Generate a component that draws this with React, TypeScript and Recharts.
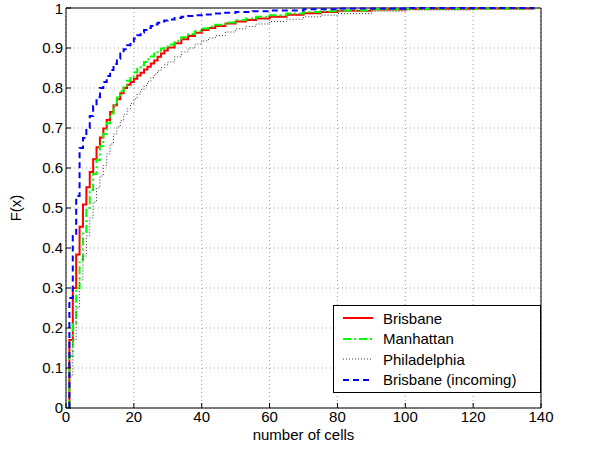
import {
  LineChart,
  Line,
  XAxis,
  YAxis,
  CartesianGrid,
  Legend,
  ReferenceLine,
} from "recharts";

const brisbaneCells = [
  1, 2, 3, 4, 5, 6, 7, 8, 9, 10, 11, 12, 13, 14, 15, 16, 17, 18, 19, 20, 21, 22, 23, 24, 25, 26, 27, 28, 29, 30,
  32, 34, 36, 38, 40, 42, 44, 47, 50, 53, 56, 60, 65, 70, 75, 80, 90, 100, 120, 138,
];
const brisbaneF = [
  0.17, 0.3, 0.384, 0.453, 0.509, 0.552, 0.59, 0.622, 0.652, 0.676, 0.699, 0.72, 0.74, 0.757, 0.772, 0.787, 0.8,
  0.808, 0.815, 0.823, 0.831, 0.838, 0.846, 0.853, 0.861, 0.869, 0.878, 0.886, 0.894, 0.901, 0.912, 0.922, 0.93,
  0.938, 0.945, 0.95, 0.955, 0.961, 0.966, 0.97, 0.974, 0.978, 0.983, 0.987, 0.99, 0.993, 0.996, 0.998, 0.999, 1,
];

const manhattanCells = [
  1, 2, 3, 4, 5, 6, 7, 8, 9, 10, 11, 12, 13, 14, 15, 16, 17, 18, 19, 20, 21, 22, 23, 24, 25, 26, 27, 28, 29, 30,
  32, 34, 36, 38, 40, 42, 44, 47, 50, 53, 56, 60, 65, 70, 75, 80, 90, 100, 120, 138,
];
const manhattanF = [
  0.13, 0.21, 0.3, 0.37, 0.44, 0.5, 0.545, 0.585, 0.62, 0.655, 0.685, 0.712, 0.736, 0.757, 0.776, 0.792, 0.806,
  0.818, 0.829, 0.839, 0.848, 0.857, 0.865, 0.872, 0.879, 0.886, 0.893, 0.899, 0.904, 0.909, 0.918, 0.927, 0.935,
  0.942, 0.949, 0.954, 0.958, 0.964, 0.97, 0.974, 0.978, 0.982, 0.986, 0.99, 0.992, 0.994, 0.997, 0.998, 0.999, 1,
];

const philadelphiaCells = [
  1, 2, 3, 4, 5, 6, 7, 8, 9, 10, 11, 12, 13, 14, 15, 16, 17, 18, 19, 20, 21, 22, 23, 24, 25, 26, 27, 28, 29, 30,
  32, 34, 36, 38, 40, 42, 44, 47, 50, 53, 56, 60, 65, 70, 75, 80, 90, 100, 120, 138,
];
const philadelphiaF = [
  0.08, 0.17, 0.25, 0.32, 0.38, 0.43, 0.475, 0.515, 0.55, 0.58, 0.607, 0.635, 0.66, 0.685, 0.703, 0.719, 0.734,
  0.748, 0.761, 0.773, 0.785, 0.796, 0.806, 0.816, 0.826, 0.835, 0.843, 0.851, 0.858, 0.865, 0.878, 0.89, 0.9,
  0.91, 0.918, 0.925, 0.931, 0.94, 0.948, 0.954, 0.96, 0.966, 0.972, 0.978, 0.982, 0.986, 0.992, 0.995, 0.998, 1,
];

const incomingCells = [
  1, 2, 3, 4, 5, 6, 7, 8, 9, 10, 11, 12, 13, 14, 15, 16, 17, 18, 19, 20, 21, 22, 23, 24, 25, 26, 27, 28, 29, 30,
  32, 34, 36, 38, 40, 43, 46, 50, 55, 60, 70, 80, 100, 138,
];
const incomingF = [
  0.275, 0.43, 0.53, 0.65, 0.675, 0.7, 0.73, 0.755, 0.777, 0.8, 0.815, 0.83, 0.845, 0.86, 0.873, 0.886, 0.897,
  0.907, 0.916, 0.924, 0.932, 0.939, 0.945, 0.95, 0.955, 0.959, 0.963, 0.966, 0.969, 0.971, 0.975, 0.978, 0.98,
  0.982, 0.984, 0.986, 0.988, 0.99, 0.992, 0.994, 0.997, 0.999, 1, 1,
];

const xTicks = [0, 20, 40, 60, 80, 100, 120, 140];
const yTicks = [0, 0.1, 0.2, 0.3, 0.4, 0.5, 0.6, 0.7, 0.8, 0.9, 1];

const font = '"Liberation Sans", Arial, Helvetica, sans-serif';

// ecdf starts with a vertical jump from 0 at the smallest value
const toSteps = (cells: number[], cdf: number[]) => [
  { x: cells[0], F: 0 },
  ...cells.map((c, i) => ({ x: c, F: cdf[i] })),
];

const series = [
  { name: "Brisbane", data: toSteps(brisbaneCells, brisbaneF), color: "#ff0000", width: 2, dash: undefined },
  { name: "Manhattan", data: toSteps(manhattanCells, manhattanF), color: "#00ff00", width: 2, dash: "8 3 2 3" },
  { name: "Philadelphia", data: toSteps(philadelphiaCells, philadelphiaF), color: "#333333", width: 1, dash: "1 2" },
  { name: "Brisbane (incoming)", data: toSteps(incomingCells, incomingF), color: "#0000ff", width: 2, dash: "6 4" },
];

function LegendBox() {
  return (
    <div
      style={{
        border: "1px solid #000",
        background: "#fff",
        width: 206,
        padding: "2px 0 2px 0",
        fontFamily: font,
        fontSize: 15,
        color: "#000",
      }}
    >
      {series.map((s) => (
        <div key={s.name} style={{ display: "flex", alignItems: "center", height: 20.5 }}>
          <svg width={49} height={10}>
            <line
              x1={9}
              x2={39}
              y1={5}
              y2={5}
              stroke={s.color}
              strokeWidth={s.width}
              strokeDasharray={s.dash}
            />
          </svg>
          <span>{s.name}</span>
        </div>
      ))}
    </div>
  );
}

export default function App() {
  return (
    <div style={{ position: "absolute", left: 0, top: 0, width: 589, height: 449, background: "#fff", fontFamily: font }}>
      <LineChart width={589} height={449} margin={{ top: 8, right: 48, bottom: 0, left: 0 }}>
        <CartesianGrid stroke="#999" strokeDasharray="1 3" horizontalValues={yTicks} verticalValues={xTicks} />
        <XAxis
          dataKey="x"
          type="number"
          domain={[0, 140]}
          ticks={xTicks}
          height={41}
          stroke="#000"
          tickSize={-5}
          tickMargin={8}
          tick={{ fill: "#000", fontSize: 15 }}
          label={{ value: "number of cells", position: "insideBottom", offset: 9, fill: "#000", fontSize: 15 }}
        />
        <YAxis
          type="number"
          domain={[0, 1]}
          ticks={yTicks}
          width={66}
          stroke="#000"
          tickSize={-5}
          tickMargin={8}
          tick={{ fill: "#000", fontSize: 15 }}
          label={{
            value: "F(x)",
            angle: -90,
            position: "insideLeft",
            offset: 16,
            fill: "#000",
            fontSize: 15,
            style: { textAnchor: "middle" },
          }}
        />
        <XAxis
          xAxisId="top"
          orientation="top"
          type="number"
          domain={[0, 140]}
          ticks={xTicks}
          height={0}
          stroke="#000"
          tickSize={-5}
          tickFormatter={() => ""}
        />
        <YAxis
          yAxisId="right"
          orientation="right"
          type="number"
          domain={[0, 1]}
          ticks={yTicks}
          width={0}
          stroke="#000"
          tickSize={-5}
          tickFormatter={() => ""}
        />
        <ReferenceLine x={140} stroke="#000" />
        <ReferenceLine y={1} stroke="#000" />
        {series.map((s) => (
          <Line
            key={s.name}
            data={s.data}
            dataKey="F"
            name={s.name}
            type="stepAfter"
            stroke={s.color}
            strokeWidth={s.width}
            strokeDasharray={s.dash}
            dot={false}
            activeDot={false}
            isAnimationActive={false}
          />
        ))}
        <Legend
          layout="vertical"
          align="center"
          verticalAlign="middle"
          content={<LegendBox />}
          wrapperStyle={{ left: 333, top: 305, width: 208 }}
        />
      </LineChart>
    </div>
  );
}
